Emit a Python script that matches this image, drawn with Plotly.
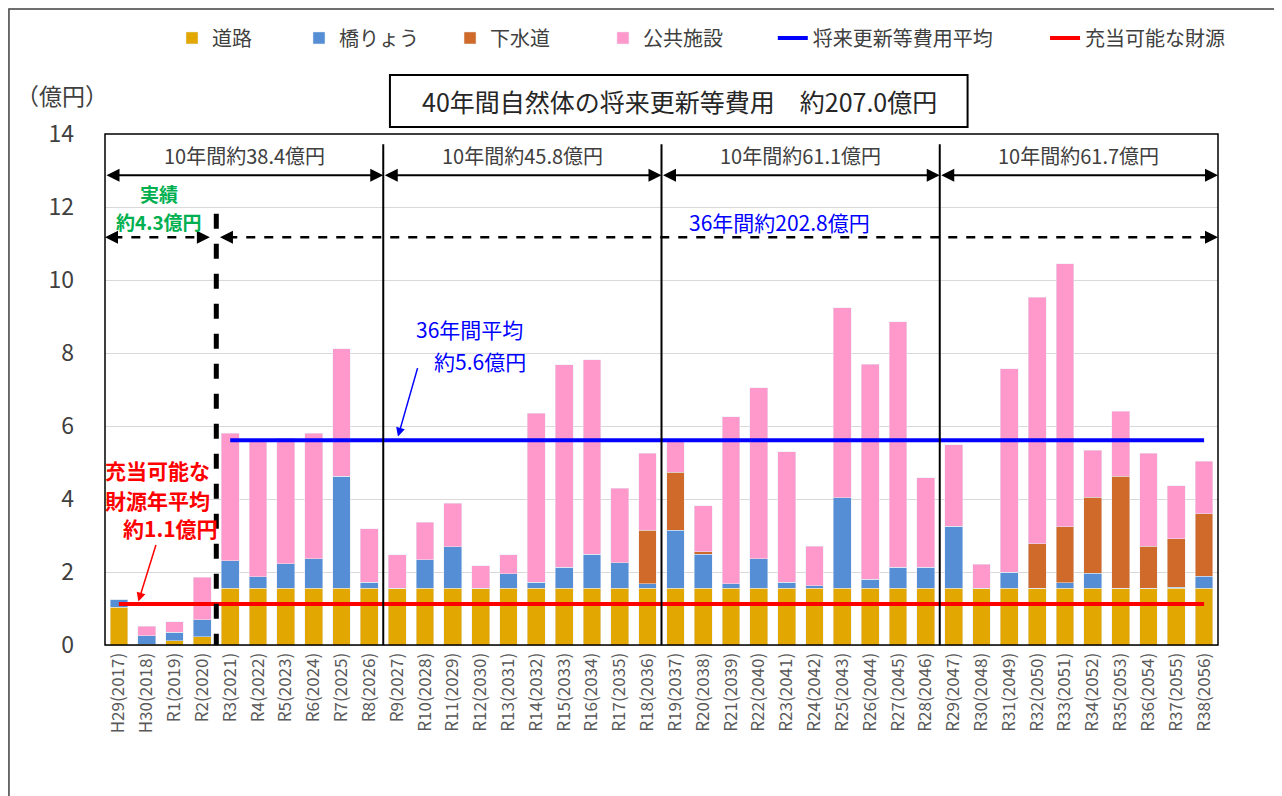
import plotly.graph_objects as go

years = ["H29(2017)", "H30(2018)", "R1(2019)", "R2(2020)", "R3(2021)", "R4(2022)", "R5(2023)", "R6(2024)",
         "R7(2025)", "R8(2026)", "R9(2027)", "R10(2028)", "R11(2029)", "R12(2030)", "R13(2031)", "R14(2032)",
         "R15(2033)", "R16(2034)", "R17(2035)", "R18(2036)", "R19(2037)", "R20(2038)", "R21(2039)", "R22(2040)",
         "R23(2041)", "R24(2042)", "R25(2043)", "R26(2044)", "R27(2045)", "R28(2046)", "R29(2047)", "R30(2048)",
         "R31(2049)", "R32(2050)", "R33(2051)", "R34(2052)", "R35(2053)", "R36(2054)", "R37(2055)", "R38(2056)"]

road = [1.04, 0.02, 0.12, 0.22, 1.55, 1.55, 1.55, 1.55, 1.55, 1.55,
        1.55, 1.55, 1.55, 1.55, 1.55, 1.55, 1.55, 1.55, 1.55, 1.55,
        1.55, 1.55, 1.55, 1.55, 1.55, 1.55, 1.55, 1.55, 1.55, 1.55,
        1.55, 1.55, 1.55, 1.55, 1.55, 1.55, 1.55, 1.55, 1.55, 1.55]
bridge = [0.22, 0.23, 0.23, 0.47, 0.76, 0.32, 0.67, 0.81, 3.07, 0.17,
          0.00, 0.79, 1.14, 0.00, 0.40, 0.17, 0.58, 0.94, 0.71, 0.13,
          1.60, 0.93, 0.13, 0.81, 0.17, 0.07, 2.48, 0.25, 0.58, 0.58,
          1.70, 0.00, 0.44, 0.00, 0.15, 0.42, 0.00, 0.00, 0.03, 0.33]
sewer = [0, 0, 0, 0, 0, 0, 0, 0, 0, 0,
         0, 0, 0, 0, 0, 0, 0, 0, 0, 1.47,
         1.58, 0.07, 0, 0, 0, 0, 0, 0, 0, 0,
         0, 0, 0, 1.22, 1.54, 2.08, 3.07, 1.15, 1.33, 1.72]
public = [0.00, 0.26, 0.29, 1.16, 3.49, 3.75, 3.45, 3.44, 3.50, 1.47,
          0.92, 1.03, 1.20, 0.62, 0.52, 4.63, 5.55, 5.32, 2.04, 2.11,
          0.90, 1.26, 4.57, 4.69, 3.57, 1.09, 5.21, 5.89, 6.72, 2.45,
          2.24, 0.66, 5.58, 6.76, 7.21, 1.29, 1.78, 2.56, 1.45, 1.43]

avg_years = years[4:]
avg_value = [5.61] * len(avg_years)
fund_value = [1.12] * len(years)

FONT = "Noto Sans CJK JP, Noto Sans, sans-serif"

fig = go.Figure()
fig.add_bar(x=years, y=road, name="道路", marker_color="#E2A700", legend="legend")
fig.add_bar(x=years, y=bridge, name="橋りょう", marker_color="#558ED5", legend="legend2")
fig.add_bar(x=years, y=sewer, name="下水道", marker_color="#D06A2B", legend="legend3")
fig.add_bar(x=years, y=public, name="公共施設", marker_color="#FF99CC", legend="legend4")
fig.add_scatter(x=avg_years, y=avg_value, mode="lines", name="将来更新等費用平均",
                line=dict(color="#0000FF", width=4), legend="legend5")
fig.add_scatter(x=years, y=fund_value, mode="lines", name="充当可能な財源",
                line=dict(color="#FF0000", width=4), legend="legend6")

shapes = []
annotations = []

# outer border and title box
shapes.append(dict(type="rect", xref="paper", yref="paper", x0=-0.0863, x1=1.0557, y0=-0.35, y1=1.2446,
                   line=dict(color="#404040", width=1.5)))
shapes.append(dict(type="rect", xref="paper", yref="paper", x0=0.256, x1=0.775, y0=1.0137, y1=1.1155,
                   line=dict(color="black", width=2)))
# plot frame
shapes.append(dict(type="rect", xref="paper", yref="paper", x0=0, x1=1, y0=0, y1=1,
                   line=dict(color="black", width=1.5), layer="above"))
# decade dividers
for xv in [9.5, 19.5, 29.5]:
    shapes.append(dict(type="line", xref="x", yref="y", x0=xv, x1=xv, y0=0, y1=13.72,
                       line=dict(color="black", width=2), layer="above"))
# actual / forecast divider
shapes.append(dict(type="line", xref="x", yref="y", x0=3.5, x1=3.5, y0=-0.1, y1=11.94,
                   line=dict(color="black", width=5, dash="dash"), layer="above"))

# decade arrows
for a, b, t in [(-0.5, 9.5, "10年間約38.4億円"), (9.5, 19.5, "10年間約45.8億円"),
                (19.5, 29.5, "10年間約61.1億円"), (29.5, 39.5, "10年間約61.7億円")]:
    annotations.append(dict(x=b, y=12.87, ax=a, ay=12.87, xref="x", yref="y", axref="x", ayref="y",
                            text="", showarrow=True, arrowhead=2, arrowside="end+start",
                            arrowsize=1.3, arrowwidth=2, arrowcolor="black"))
    annotations.append(dict(x=(a + b) / 2, y=13.42, xref="x", yref="y", text=t, showarrow=False,
                            font=dict(size=20, color="#404040", family=FONT)))

# dashed arrows
dash_y = 11.17
for x0, x1 in [(-0.5, 3.27), (3.63, 39.5)]:
    shapes.append(dict(type="line", xref="x", yref="y", x0=x0 + 0.3, x1=x1 - 0.3, y0=dash_y, y1=dash_y,
                       line=dict(color="black", width=2.5, dash="dash"), layer="above"))
    annotations.append(dict(x=x0, y=dash_y, ax=x0 + 0.5, ay=dash_y, xref="x", yref="y", axref="x", ayref="y",
                            text="", showarrow=True, arrowhead=2, arrowsize=1.3, arrowwidth=2,
                            arrowcolor="black"))
    annotations.append(dict(x=x1, y=dash_y, ax=x1 - 0.5, ay=dash_y, xref="x", yref="y", axref="x", ayref="y",
                            text="", showarrow=True, arrowhead=2, arrowsize=1.3, arrowwidth=2,
                            arrowcolor="black"))

annotations += [
    dict(x=1.44, y=12.36, xref="x", yref="y", text="<b>実績</b>", showarrow=False,
         font=dict(size=19, color="#00B050", family=FONT)),
    dict(x=1.44, y=11.6, xref="x", yref="y", text="<b>約4.3億円</b>", showarrow=False,
         font=dict(size=19, color="#00B050", family=FONT)),
    dict(x=23.75, y=11.6, xref="x", yref="y", text="36年間約202.8億円", showarrow=False,
         font=dict(size=21, color="#0000FF", family=FONT)),
    dict(x=12.6, y=8.66, xref="x", yref="y", text="36年間平均", showarrow=False,
         font=dict(size=21, color="#0000FF", family=FONT)),
    dict(x=12.97, y=7.79, xref="x", yref="y", text="約5.6億円", showarrow=False,
         font=dict(size=21, color="#0000FF", family=FONT)),
    dict(x=10.03, y=5.71, ax=20, ay=-70, xref="x", yref="y", text="", showarrow=True,
         arrowhead=2, arrowsize=1.2, arrowwidth=1.5, arrowcolor="#0000FF"),
    dict(x=1.37, y=4.79, xref="x", yref="y", text="<b>充当可能な</b>", showarrow=False,
         font=dict(size=21, color="#FF0000", family=FONT)),
    dict(x=1.37, y=3.97, xref="x", yref="y", text="<b>財源年平均</b>", showarrow=False,
         font=dict(size=21, color="#FF0000", family=FONT)),
    dict(x=1.84, y=3.20, xref="x", yref="y", text="<b>約1.1億円</b>", showarrow=False,
         font=dict(size=21, color="#FF0000", family=FONT)),
    dict(x=0.70, y=1.19, ax=18, ay=-58, xref="x", yref="y", text="", showarrow=True,
         arrowhead=2, arrowsize=1.2, arrowwidth=1.5, arrowcolor="#FF0000"),
    dict(x=0.516, y=1.0646, xref="paper", yref="paper", xanchor="center", yanchor="middle",
         text="40年間自然体の将来更新等費用　約207.0億円",
         showarrow=False, font=dict(size=25, color="#262626", family=FONT)),
    dict(x=-0.0386, y=1.076, xref="paper", yref="paper", xanchor="center", yanchor="middle",
         text="（億円）", showarrow=False,
         font=dict(size=23, color="#404040", family=FONT)),
]

legend_style = dict(orientation="h", y=1.188, yanchor="middle", xanchor="left",
                    font=dict(size=20, color="#404040", family=FONT),
                    itemwidth=30, bgcolor="rgba(0,0,0,0)")
legend_x = [0.0602, 0.1743, 0.310, 0.4474, 0.600, 0.8446]

fig.update_layout(
    width=1282, height=796,
    margin=dict(l=97, r=72, t=126, b=159, autoexpand=False),
    barmode="stack", bargap=0.36,
    plot_bgcolor="white", paper_bgcolor="white",
    font=dict(family=FONT, color="#404040"),
    showlegend=True,
    legend=dict(x=legend_x[0], **legend_style),
    legend2=dict(x=legend_x[1], **legend_style),
    legend3=dict(x=legend_x[2], **legend_style),
    legend4=dict(x=legend_x[3], **legend_style),
    legend5=dict(x=legend_x[4], **legend_style),
    legend6=dict(x=legend_x[5], **legend_style),
    shapes=shapes, annotations=annotations,
    hovermode=False,
)
fig.update_xaxes(type="category", range=[-0.5, 39.5], tickangle=-90, showgrid=False,
                 tickfont=dict(size=17, color="#595959", family=FONT), ticks="",
                 showline=True, linecolor="#BFBFBF")
fig.update_yaxes(range=[0, 14], dtick=2, gridcolor="#D9D9D9", gridwidth=1, zeroline=False,
                 tickfont=dict(size=23, color="#404040", family=FONT), ticks="",
                 ticklabelstandoff=30)

fig.write_html("out.html")
